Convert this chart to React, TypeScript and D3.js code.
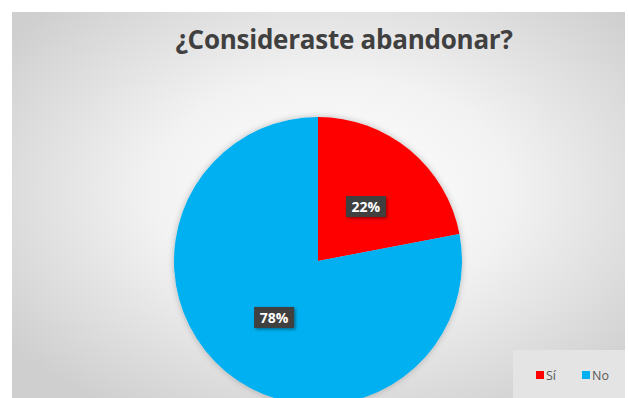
import React from "react";
import * as d3 from "d3";

const categories = ["Sí", "No"];
const values = [22, 78];
const colors = ["#FF0000", "#00B0F0"];
const title = "¿Consideraste abandonar?";

const W = 629;
const H = 398;

export default function App() {
  const cx = 318;
  const cy = 261;
  const r = 144;
  const pie = d3.pie<number>().sort(null).value((d) => d);
  const arcs = pie(values);
  const arc = d3.arc<d3.PieArcDatum<number>>().innerRadius(0).outerRadius(r);
  const fmt = (v: number) => `${Math.round((v / d3.sum(values)) * 100)}%`;

  return (
    <svg
      width={W}
      height={H}
      style={{ position: "absolute", left: 0, top: 0, display: "block" }}
      fontFamily="'Open Sans', sans-serif"
    >
      <defs>
        <radialGradient id="bg" cx="52%" cy="45%" r="65%">
          <stop offset="0%" stopColor="#ffffff" />
          <stop offset="45%" stopColor="#f2f2f2" />
          <stop offset="100%" stopColor="#cfcfcf" />
        </radialGradient>
        <filter id="pieShadow" x="-20%" y="-20%" width="140%" height="140%">
          <feDropShadow dx="0" dy="0" stdDeviation="3" floodColor="#000" floodOpacity="0.25" />
        </filter>
        <filter id="lblShadow" x="-30%" y="-30%" width="160%" height="160%">
          <feDropShadow dx="1.5" dy="1.5" stdDeviation="1.5" floodColor="#000" floodOpacity="0.4" />
        </filter>
      </defs>
      <rect x={0} y={0} width={W} height={H} fill="#ffffff" />
      <rect x={12} y={12} width={613} height={H} fill="url(#bg)" />
      <text
        x={344}
        y={49}
        textAnchor="middle"
        fontSize={26}
        fontWeight={700}
        fill="#404040"
        letterSpacing={-0.25}
      >
        {title}
      </text>
      <g transform={`translate(${cx},${cy})`} filter="url(#pieShadow)">
        {arcs.map((a, i) => (
          <path key={categories[i]} d={arc(a) || ""} fill={colors[i]} />
        ))}
      </g>
      <g transform={`translate(${cx},${cy})`}>
        {arcs.map((a, i) => {
          const [lx, ly] = arc.centroid(a);
          const bw = 40;
          const bh = 21;
          return (
            <g key={categories[i]} transform={`translate(${lx + 2},${ly + 1})`}>
              <rect
                x={-bw / 2}
                y={-bh / 2}
                width={bw}
                height={bh}
                fill="#404040"
                filter="url(#lblShadow)"
              />
              <text
                textAnchor="middle"
                dy="0.36em"
                fontSize={14}
                fontWeight={700}
                fill="#ffffff"
              >
                {fmt(values[i])}
              </text>
            </g>
          );
        })}
      </g>
      <rect x={513} y={350} width={112} height={60} fill="#e4e4e4" />
      {categories.map((c, i) => {
        const x0 = i === 0 ? 536 : 582;
        return (
          <g key={c}>
            <rect x={x0} y={371} width={8} height={8} fill={colors[i]} />
            <text x={x0 + 10} y={379.5} fontSize={12.5} fill="#595959">
              {c}
            </text>
          </g>
        );
      })}
    </svg>
  );
}
